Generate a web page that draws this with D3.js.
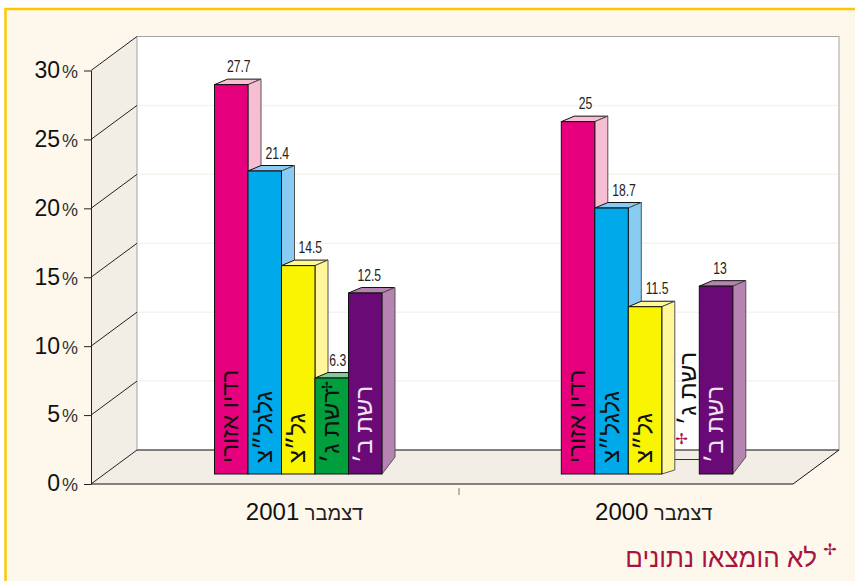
<!DOCTYPE html>
<html lang="he">
<head>
<meta charset="utf-8">
<script src="https://cdn.jsdelivr.net/npm/d3@7"></script>
<style>
  html, body { margin: 0; padding: 0; background: #fff; overflow: hidden; }
  svg { display: block; font-family: "Liberation Sans", Arial, sans-serif; }
</style>
</head>
<body>
<div id="chart"></div>
<script>
// values
const years = ["2001", "2000"];
const stations = ["רדיו אזורי", "גלגל\u05F4צ", "גל\u05F4צ", "רשת ג׳", "רשת ב׳"];
const values2001 = [27.7, 21.4, 14.5, 6.3, 12.5];
const values2000 = [25, 18.7, 11.5, null, 13];
const yTicks = [0, 5, 10, 15, 20, 25, 30];
const monthLabel = "דצמבר";
const footnote = "לא הומצאו נתונים";

const frontColors = ["#e6007e", "#00a9ea", "#f9f400", "#009e3d", "#6a0a76"];
const sideColors = ["#f7bdd3", "#88cbf3", "#fff799", "#85c99b", "#b584b0"];
const textColors = ["#111", "#111", "#111", "#111", "#f1e3f1"];
const valueDx = [7.5, 12.5, 12, 6, 4];

const width = 855, height = 581;
const depthX = 46, depthY = 34;       // shift from front plane to back wall
const barDepthX = 13, barDepthY = 5.5;
const barBase = 474;

const svg = d3.select("#chart").append("svg")
  .attr("width", width)
  .attr("height", height);

// page + yellow frame
svg.append("rect").attr("width", width).attr("height", height).attr("fill", "#fff");
svg.append("rect")
  .attr("x", 5.5).attr("y", 9)
  .attr("width", width + 20).attr("height", height + 20)
  .attr("fill", "#fef8ec")
  .attr("stroke", "#fdc800")
  .attr("stroke-width", 2.5);

const yScale = d3.scaleLinear().domain([0, 30]).range([484, 70.5]);
// bars stand forward of the wall, so their zero sits on its own line
const barY = d3.scaleLinear().domain([0, 30]).range([464.4, 53.1]);

const left = 91, right = 793;
const y0 = yScale(0), y30 = yScale(30);

// floor and side wall
svg.append("polygon")
  .attr("points", [[left, y0], [right, y0], [right + depthX, y0 - depthY], [left + depthX, y0 - depthY]].join(" "))
  .attr("fill", "#f2eee6");
svg.append("polygon")
  .attr("points", [[left, y0], [left + depthX, y0 - depthY], [left + depthX, y30 - depthY], [left, y30]].join(" "))
  .attr("fill", "#f2eee6");

// back wall
svg.append("rect")
  .attr("x", left + depthX).attr("y", y30 - depthY)
  .attr("width", right - left).attr("height", y0 - y30)
  .attr("fill", "#fff")
  .attr("stroke", "#a3a3a3")
  .attr("stroke-width", 1);

svg.selectAll(".grid")
  .data(yTicks.filter(d => d > 0 && d < 30))
  .join("line")
  .attr("class", "grid")
  .attr("x1", left + depthX + 1).attr("x2", right + depthX - 1)
  .attr("y1", d => yScale(d) - depthY)
  .attr("y2", d => yScale(d) - depthY)
  .attr("stroke", "#f5f3ec")
  .attr("stroke-width", 1.5);

svg.selectAll(".diag")
  .data(yTicks)
  .join("line")
  .attr("class", "diag")
  .attr("x1", left).attr("y1", d => yScale(d))
  .attr("x2", left + depthX).attr("y2", d => yScale(d) - depthY)
  .attr("stroke", "#222")
  .attr("stroke-width", 1);

// floor edges
svg.append("line")
  .attr("x1", left + depthX).attr("x2", right + depthX)
  .attr("y1", y0 - depthY).attr("y2", y0 - depthY)
  .attr("stroke", "#333");
svg.append("line")
  .attr("x1", left).attr("x2", right)
  .attr("y1", y0).attr("y2", y0)
  .attr("stroke", "#111").attr("stroke-width", 1.2);
svg.append("line")
  .attr("x1", right).attr("y1", y0)
  .attr("x2", right + depthX).attr("y2", y0 - depthY)
  .attr("stroke", "#111");

// y axis
const yAxis = d3.axisLeft(yScale)
  .tickValues(yTicks)
  .tickSize(7)
  .tickSizeOuter(0)
  .tickPadding(6)
  .tickFormat(d => d);

const yAxisGroup = svg.append("g")
  .attr("transform", `translate(${left},0)`)
  .call(yAxis);

yAxisGroup.select(".domain").attr("stroke", "#222");
yAxisGroup.selectAll(".tick line").attr("stroke", "#222");
yAxisGroup.selectAll(".tick text")
  .attr("font-family", "Liberation Sans")
  .attr("font-size", 23)
  .attr("fill", "#111")
  .attr("dy", "0.3em")
  .append("tspan")
  .attr("dx", 2)
  .attr("font-size", 18)
  .attr("fill", "#333")
  .text("%");

// x axis, only the labels of the axis are drawn
const xGroup = d3.scaleBand().domain(years).range([129.9, 828.3]);
const xAxis = d3.axisBottom(xGroup).tickSize(0).tickPadding(0).tickFormat(() => "");
const xAxisGroup = svg.append("g")
  .attr("transform", "translate(0,511)")
  .call(xAxis);
xAxisGroup.select(".domain").remove();
xAxisGroup.selectAll(".tick text")
  .attr("y", 9)
  .attr("dy", null)
  .attr("direction", "rtl")
  .attr("text-anchor", "middle")
  .attr("font-family", "Liberation Sans")
  .attr("font-size", 20)
  .attr("fill", "#222")
  .each(function (d) {
    const t = d3.select(this);
    t.append("tspan").text(monthLabel + " ");
    t.append("tspan").attr("font-size", 24).attr("fill", "#111").text(d);
  });

// tick between the two groups
svg.append("line")
  .attr("x1", 459).attr("x2", 459)
  .attr("y1", 488).attr("y2", 495)
  .attr("stroke", "#777");

// bars
const xBars = d3.scaleBand().domain(years).range([214.5, 908.1]);
const xBar = d3.scaleBand().domain(stations).range([0, 167.5]);
const barW = xBar.bandwidth();

function drawGroup(year, values) {
  const g = svg.append("g").attr("class", "group-" + year);
  const start = xBars(year);

  const rows = stations.map((name, i) => {
    // the bar after an empty slot sits a little further right
    const shift = i > 0 && values[i - 1] === null ? 4 : 0;
    return { name, i, value: values[i], x: start + xBar(name) + shift, nextEmpty: values[i + 1] === null };
  });

  rows.filter(d => d.value === null).forEach(d => {
    // empty slot: rear outline on the floor, label and marker only
    g.append("line")
      .attr("x1", d.x + barDepthX - 1).attr("x2", d.x + barW + 4)
      .attr("y1", 459.5).attr("y2", 459.5)
      .attr("stroke", "#333");
    g.append("text")
      .attr("transform", `translate(${d.x + barW / 2 + 17},425) rotate(-90)`)
      .attr("direction", "rtl")
      .attr("text-anchor", "end")
      .attr("font-size", 24)
      .attr("fill", "#111")
      .text(d.name);
    g.append("text")
      .attr("x", d.x + barW / 2 + 3)
      .attr("y", 444)
      .attr("text-anchor", "middle")
      .attr("font-family", "DejaVu Sans")
      .attr("font-size", 15)
      .attr("fill", "#b0143f")
      .text("\u2722");
  });

  rows.filter(d => d.value !== null).forEach(d => {
    const top = barY(d.value);
    const x1 = d.x + barW;
    const sideDrop = d.nextEmpty ? 4 : 17;

    // top face
    g.append("polygon")
      .attr("points", [[d.x, top], [d.x + barDepthX, top - barDepthY], [x1 + barDepthX, top - barDepthY], [x1, top]].join(" "))
      .attr("fill", sideColors[d.i])
      .attr("stroke", "#111")
      .attr("stroke-width", 1);
    // side face
    g.append("polygon")
      .attr("points", [[x1, top], [x1 + barDepthX, top - barDepthY], [x1 + barDepthX, barBase - sideDrop], [x1, barBase]].join(" "))
      .attr("fill", sideColors[d.i])
      .attr("stroke", "#555")
      .attr("stroke-width", 1);
    // front face
    g.append("rect")
      .attr("x", d.x).attr("y", top)
      .attr("width", barW).attr("height", barBase - top)
      .attr("fill", frontColors[d.i])
      .attr("stroke", "#111")
      .attr("stroke-width", 1);

    g.append("text")
      .attr("transform", `translate(${d.x + barW / 2 + 7},463) rotate(-90)`)
      .attr("direction", "rtl")
      .attr("text-anchor", "end")
      .attr("font-size", 24)
      .attr("fill", textColors[d.i])
      .text(d.name);

    if (year === "2001" && d.i === 3) {
      g.append("text")
        .attr("x", d.x + barW / 2 - 5)
        .attr("y", 392)
        .attr("text-anchor", "middle")
        .attr("font-family", "DejaVu Sans")
        .attr("font-size", 14)
        .attr("fill", "#111")
        .text("\u2722");
    }
  });

  // value labels go last so no bar covers them, squeezed to look condensed
  rows.filter(d => d.value !== null).forEach(d => {
    g.append("text")
      .attr("transform", `translate(${d.x + barW / 2 + valueDx[d.i]},${barY(d.value) - 12.5}) scale(0.76,1)`)
      .attr("text-anchor", "middle")
      .attr("font-family", "Liberation Sans")
      .attr("font-size", 16)
      .attr("fill", "#222")
      .text(d.value);
  });
}

drawGroup("2001", values2001);
drawGroup("2000", values2000);

// footnote
svg.append("text")
  .attr("x", 817).attr("y", 567)
  .attr("direction", "rtl")
  .attr("text-anchor", "start")
  .attr("font-size", 26)
  .attr("fill", "#a8143f")
  .text(footnote);
svg.append("text")
  .attr("x", 830).attr("y", 555)
  .attr("text-anchor", "middle")
  .attr("font-family", "DejaVu Sans")
  .attr("font-size", 16)
  .attr("fill", "#a8143f")
  .text("\u2722");
</script>
</body>
</html>
